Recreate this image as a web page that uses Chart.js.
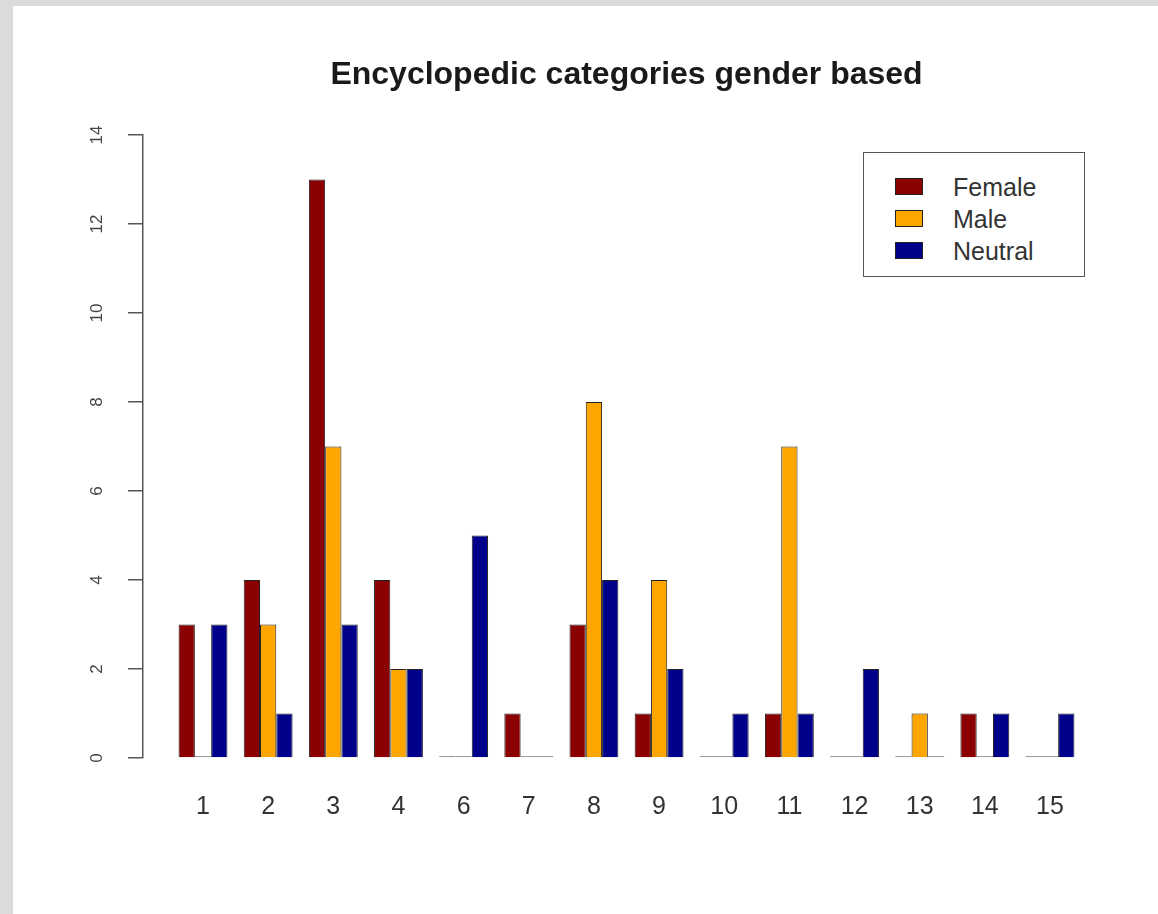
<!DOCTYPE html>
<html>
<head>
<meta charset="utf-8">
<style>
  body { margin: 0; background: #dcdada; }
  #page { position: relative; width: 1158px; height: 914px; overflow: hidden; }
  #panel { position: absolute; left: 13px; top: 6px; right: 0; bottom: 0; background: #fff; }
  #chart { position: absolute; left: 0; top: 0; }
  #legend {
    position: absolute; left: 863px; top: 152px; width: 222px; height: 125px;
    border: 1.5px solid #555; background: #fff; box-sizing: border-box;
    font-family: "Liberation Sans", Arial, sans-serif; font-size: 25px; color: #333;
  }
  .item { position: absolute; left: 0; height: 32px; line-height: 32px; }
  .sw { position: absolute; left: 31px; top: 7px; width: 28px; height: 17px; border: 1px solid #222; box-sizing: border-box; }
  .lbl { position: absolute; left: 89px; top: 0; white-space: nowrap; }
</style>
</head>
<body>
<div id="page">
  <div id="panel"></div>
  <canvas id="chart" width="1158" height="914"></canvas>
  <div id="legend"></div>
</div>

<script src="https://cdn.jsdelivr.net/npm/chart.js"></script>
<script>
  var categories = ["1", "2", "3", "4", "6", "7", "8", "9", "10", "11", "12", "13", "14", "15"];
  var female = [3, 4, 13, 4, 0, 1, 3, 1, 0, 1, 0, 0, 1, 0];
  var male = [0, 3, 7, 2, 0, 0, 8, 4, 0, 7, 0, 1, 0, 0];
  var neutral = [3, 1, 3, 2, 5, 0, 4, 2, 1, 1, 2, 0, 1, 1];
  var yTicks = [0, 2, 4, 6, 8, 10, 12, 14];

  var series = [
    { label: "Female", values: female, color: "#8b0000" },
    { label: "Male", values: male, color: "#ffa500" },
    { label: "Neutral", values: neutral, color: "#00008b" },
  ];

  var font = "'Liberation Sans', Arial, sans-serif";

  var datasets = series.map(function (s) {
    return {
      label: s.label,
      data: s.values.map(function (v, i) {
        return { x: i, y: v };
      }),
      backgroundColor: function (ctx) {
        return ctx.raw && ctx.raw.y === 0 ? "#8a8a8a" : s.color;
      },
      borderColor: function (ctx) {
        return ctx.raw && ctx.raw.y === 0 ? "#8a8a8a" : "#222";
      },
      borderWidth: 1,
      minBarLength: 2,
      categoryPercentage: 0.75,
      barPercentage: 1,
    };
  });

  var ctx = document.getElementById("chart").getContext("2d");

  var myChart = new Chart(ctx, {
    type: "bar",
    data: { datasets: datasets },
    options: {
      responsive: false,
      devicePixelRatio: 1,
      animation: false,
      layout: { padding: { left: 0, right: 48, top: 0, bottom: 0 } },
      plugins: {
        legend: { display: false },
        tooltip: { enabled: false },
        title: {
          display: true,
          text: "Encyclopedic categories gender based",
          fullSize: false,
          color: "#1a1a1a",
          font: { family: font, size: 32, weight: "bold" },
          padding: { top: 56, bottom: 40.6 },
        },
      },
      scales: {
        x: {
          type: "linear",
          offset: false,
          min: -0.921,
          max: 13.921,
          grid: { display: false },
          border: { display: false },
          ticks: {
            stepSize: 1,
            includeBounds: false,
            autoSkip: false,
            maxRotation: 0,
            padding: 26,
            color: "#333",
            font: { family: font, size: 25 },
            callback: function (value) {
              return Number.isInteger(value) && categories[value] !== undefined ? categories[value] : "";
            },
          },
          afterFit: function (scale) {
            scale.height = 156;
          },
        },
        y: {
          min: 0,
          max: 14,
          grid: { drawOnChartArea: false, drawTicks: true, tickLength: 15, color: "#555", lineWidth: 1.5 },
          border: { display: true, color: "#555", width: 1.5 },
          afterBuildTicks: function (scale) {
            scale.ticks = yTicks.map(function (v) {
              return { value: v };
            });
          },
          ticks: {
            minRotation: 90,
            maxRotation: 90,
            crossAlign: "center",
            padding: 21,
            color: "#444",
            font: { family: font, size: 17 },
          },
          afterFit: function (scale) {
            scale.width = 143;
          },
        },
      },
    },
  });

  // legend box like the R one
  var legend = document.getElementById("legend");
  series.forEach(function (s, i) {
    var row = document.createElement("div");
    row.className = "item";
    row.style.top = 18 + i * 32 + "px";
    row.innerHTML = '<span class="sw" style="background:' + s.color + '"></span><span class="lbl">' + s.label + "</span>";
    legend.appendChild(row);
  });
</script>
</body>
</html>
